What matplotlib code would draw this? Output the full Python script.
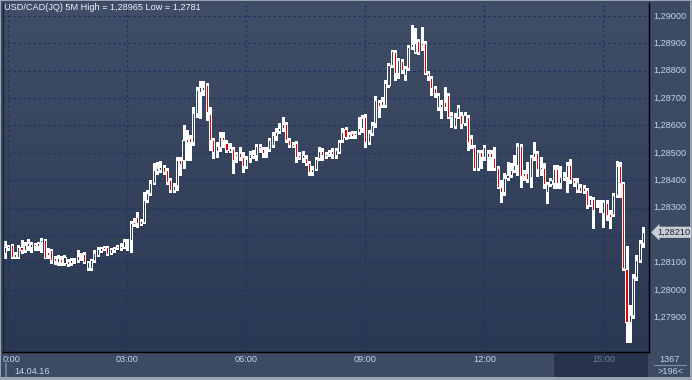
# -*- coding: utf-8 -*-
# usdcad_5m.py
import numpy as np
import matplotlib
matplotlib.use("Agg")
import matplotlib.pyplot as plt
from matplotlib.colors import LinearSegmentedColormap
from matplotlib.patches import Rectangle
from matplotlib.transforms import blended_transform_factory

plt.rcParams['font.family'] = ['Liberation Sans', 'DejaVu Sans']

## 5 minute bars, prices in 1e-5 (points); first bar is 23:55 of 13.04.16
open_pts = [
    128135, 128153, 128164, 128120, 128120, 128156, 128146, 128160, 128156, 128167,
    128160, 128175, 128182, 128127, 128146, 128116, 128102, 128113, 128098, 128105,
    128098, 128105, 128109, 128120, 128131, 128080, 128080, 128109, 128127, 128142,
    128149, 128156, 128135, 128146, 128160, 128153, 128156, 128178, 128182, 128240,
    128266, 128240, 128248, 128328, 128354, 128390, 128434, 128438, 128448,
    128438, 128401, 128365, 128383, 128474, 128474, 128540, 128554, 128540, 128646,
    128722, 128730, 128748, 128642, 128547, 128507, 128521, 128558, 128536, 128507,
    128514, 128489, 128500, 128485, 128452, 128481, 128489, 128492, 128525, 128514,
    128507, 128514, 128529, 128562, 128580, 128591, 128605, 128547, 128525, 128536,
    128485, 128481, 128481, 128463, 128430, 128441, 128481, 128507, 128489, 128496,
    128507, 128492, 128503, 128547, 128587, 128558, 128573, 128565, 128576, 128591,
    128631, 128540, 128573, 128609, 128686, 128675, 128675, 128748, 128821, 128868,
    128792, 128835, 128784, 128810, 128886, 128868, 128908, 128894, 128901, 128792,
    128773, 128737, 128667, 128667, 128686, 128711, 128631, 128598, 128631, 128638,
    128609, 128631, 128554, 128521, 128445, 128503, 128485,
    128485, 128500, 128481, 128445, 128375, 128357, 128408, 128419, 128438, 128456,
    128525, 128416, 128427, 128412, 128485, 128500, 128441, 128445, 128357, 128386,
    128390, 128441, 128390, 128408, 128412, 128456, 128401, 128365, 128375, 128361,
    128365, 128310, 128332, 128313, 128313, 128281, 128317, 128277, 128277, 128346,
    128452, 128390, 128076, 127883, 127908, 128047, 128109, 128171,
]
high_pts = [
    128178, 128164, 128167, 128138, 128164, 128182, 128175, 128186, 128175, 128171,
    128175, 128189, 128186, 128153, 128149, 128124, 128127, 128124, 128127, 128113,
    128116, 128116, 128146, 128135, 128138, 128105, 128113, 128146, 128156, 128156,
    128160, 128160, 128153, 128156, 128164, 128171, 128186, 128186, 128251, 128262,
    128284, 128259, 128357, 128365, 128401, 128463, 128467, 128470, 128456,
    128445, 128408, 128390, 128485, 128485, 128602, 128584, 128565, 128667, 128740,
    128762, 128762, 128755, 128667, 128554, 128540, 128576, 128576, 128547, 128536,
    128521, 128503, 128521, 128503, 128489, 128507, 128511, 128532, 128532, 128521,
    128521, 128554, 128576, 128591, 128609, 128631, 128613, 128554, 128540, 128543,
    128503, 128507, 128492, 128470, 128452, 128485, 128521, 128518, 128503, 128511,
    128518, 128518, 128547, 128591, 128594, 128576, 128580, 128580, 128631, 128638,
    128642, 128584, 128613, 128708, 128693, 128704, 128766, 128828, 128876, 128876,
    128846, 128843, 128817, 128894, 128965, 128956, 128916, 128960, 128908, 128799,
    128781, 128744, 128719, 128693, 128740, 128719, 128649, 128646, 128675, 128649,
    128649, 128638, 128565, 128529, 128511, 128511, 128529,
    128511, 128511, 128521, 128452, 128401, 128427, 128467, 128463, 128492, 128536,
    128532, 128438, 128467, 128492, 128540, 128507, 128485, 128463, 128394, 128408,
    128456, 128456, 128452, 128430, 128467, 128478, 128408, 128408, 128386, 128383,
    128372, 128343, 128339, 128328, 128328, 128328, 128328, 128292, 128354, 128470,
    128467, 128394, 128160, 127945, 128058, 128127, 128182, 128229,
]
low_pts = [
    128116, 128146, 128116, 128116, 128116, 128135, 128138, 128146, 128138, 128146,
    128146, 128138, 128116, 128116, 128098, 128094, 128091, 128091, 128091, 128087,
    128091, 128098, 128102, 128109, 128098, 128073, 128073, 128102, 128124, 128138,
    128146, 128127, 128131, 128138, 128149, 128146, 128153, 128146, 128138, 128233,
    128229, 128237, 128244, 128321, 128346, 128386, 128423, 128430, 128423,
    128386, 128357, 128357, 128365, 128419, 128445, 128474, 128474, 128529, 128631,
    128627, 128711, 128620, 128511, 128481, 128485, 128507, 128521, 128503, 128503,
    128427, 128467, 128474, 128430, 128445, 128467, 128481, 128474, 128503, 128485,
    128485, 128507, 128521, 128547, 128573, 128580, 128540, 128521, 128521, 128467,
    128478, 128467, 128456, 128419, 128419, 128438, 128474, 128474, 128481, 128489,
    128481, 128481, 128500, 128540, 128551, 128554, 128554, 128554, 128569, 128576,
    128521, 128532, 128565, 128594, 128631, 128667, 128667, 128740, 128813, 128766,
    128773, 128792, 128766, 128803, 128879, 128865, 128861, 128876, 128788, 128766,
    128711, 128704, 128657, 128627, 128657, 128627, 128594, 128591, 128627, 128591,
    128602, 128511, 128518, 128438, 128438, 128445, 128474,
    128438, 128438, 128438, 128372, 128321, 128346, 128401, 128412, 128430, 128419,
    128375, 128401, 128394, 128375, 128474, 128416, 128419, 128372, 128317, 128379,
    128372, 128372, 128372, 128401, 128357, 128390, 128379, 128357, 128357, 128354,
    128299, 128306, 128226, 128302, 128284, 128229, 128255, 128226, 128270, 128339,
    128339, 128073, 127810, 127810, 127897, 128036, 128102, 128156,
]
close_pts = [
    128156, 128160, 128120, 128131, 128156, 128146, 128164, 128171, 128167, 128160,
    128171, 128182, 128116, 128138, 128109, 128105, 128116, 128102, 128120, 128094,
    128109, 128109, 128124, 128124, 128102, 128102, 128109, 128135, 128149, 128153,
    128156, 128131, 128149, 128153, 128153, 128160, 128178, 128182, 128244, 128248,
    128244, 128251, 128328, 128354, 128390, 128438, 128445, 128448, 128430,
    128394, 128365, 128379, 128474, 128459, 128547, 128551, 128540, 128646, 128730,
    128740, 128740, 128649, 128547, 128503, 128525, 128558, 128547, 128511, 128518,
    128474, 128496, 128485, 128452, 128478, 128496, 128496, 128525, 128518, 128500,
    128511, 128547, 128565, 128576, 128591, 128605, 128547, 128529, 128532, 128485,
    128492, 128492, 128463, 128430, 128441, 128478, 128507, 128492, 128496, 128503,
    128496, 128511, 128540, 128576, 128558, 128569, 128562, 128573, 128591, 128627,
    128540, 128573, 128602, 128693, 128671, 128689, 128755, 128821, 128872, 128792,
    128839, 128803, 128810, 128886, 128897, 128901, 128868, 128901, 128792, 128781,
    128737, 128719, 128711, 128678, 128667, 128631, 128638, 128631, 128667, 128605,
    128638, 128540, 128529, 128445, 128503, 128485, 128521,
    128500, 128485, 128445, 128375, 128357, 128408, 128419, 128438, 128456, 128525,
    128416, 128427, 128405, 128485, 128500, 128441, 128448, 128386, 128386, 128401,
    128441, 128390, 128412, 128416, 128456, 128401, 128390, 128394, 128361, 128372,
    128310, 128332, 128292, 128317, 128317, 128321, 128273, 128266, 128346, 128452,
    128390, 128080, 127883, 127908, 128043, 128109, 128171, 128210,
]
price_levels = [1.279, 1.280, 1.281, 1.282, 1.283, 1.284, 1.285,
                1.286, 1.287, 1.288, 1.289, 1.290]
hour_ticks = [0, 3, 6, 9, 12, 15]
symbol = "USD/CAD(JQ) 5M"
date_label = "14.04.16"
bars_total = "1367"
bars_shown = ">196<"


def fmt(p, strip=False):
    s = "%.5f" % p
    if strip:
        s = s.rstrip('0')
    return s.replace('.', ',')


def plot_chart(filename):
    o = np.array(open_pts) / 1e5
    h = np.array(high_pts) / 1e5
    l = np.array(low_pts) / 1e5
    c = np.array(close_pts) / 1e5
    x = np.arange(len(c))

    ## colours
    panel = '#3c4a63'
    top_bg, bot_bg = '#404e68', '#2b3853'
    label_col = '#c4d2ea'
    grid_col = '#1b3562'
    red = '#e60000'

    W, H = 692, 380
    fig = plt.figure(figsize=(W / 100, H / 100), dpi=100, facecolor='#9aa3b2')
    def frac(x0, y0, x1, y1):
        return [x0 / W, 1 - y1 / H, (x1 - x0) / W, (y1 - y0) / H]

    ## panels behind the chart
    back = fig.add_axes(frac(1, 1, 690, 377))
    back.set_facecolor(panel)
    back.set_xticks([]); back.set_yticks([])
    for s in back.spines.values():
        s.set_visible(False)

    ax = fig.add_axes(frac(3, 3, 649, 352))
    ax.set_facecolor(bot_bg)
    cmap = LinearSegmentedColormap.from_list('bg', [top_bg, bot_bg])
    ax.imshow(np.linspace(0, 1, 256).reshape(-1, 1), cmap=cmap, aspect='auto',
              extent=[0, 1, 0, 1], transform=ax.transAxes, zorder=0)

    ## grid
    t0 = 1  # bar index of 00:00
    tick_x = [t0 + hh * 12 for hh in hour_ticks]
    for p in price_levels:
        ax.axhline(p, color=grid_col, lw=0.9, ls=(0, (2, 2)), zorder=1)
    for tx in tick_x:
        ax.axvline(tx, color=grid_col, lw=0.9, ls=(0, (2, 2)), zorder=1)

    ## candles
    up = c >= o
    body_lo = np.minimum(o, c)
    body_hi = np.maximum(o, c)
    ax.vlines(x, body_hi, h, color='white', lw=0.75, zorder=2, antialiased=False)
    ax.vlines(x, l, body_lo, color='white', lw=0.75, zorder=2, antialiased=False)
    height = np.maximum(body_hi - body_lo, 0.000015)
    faces = ['none' if u else red for u in up]
    ax.bar(x, height, bottom=body_lo, width=0.62, color=faces,
           edgecolor='white', linewidth=0.72, zorder=3, antialiased=False)

    ax.set_xlim(-0.6, 194.8)
    ax.set_ylim(1.27773, 1.29047)
    ax.set_xticks([]); ax.set_yticks([])
    ax.spines['top'].set_visible(False)
    ax.spines['left'].set_color('#1a2230')
    ax.spines['right'].set_color('black')
    ax.spines['bottom'].set_color('black')
    for side in ['left', 'right', 'bottom']:
        ax.spines[side].set_linewidth(1.0)

    ## price labels on the right (the level under the last price box is hidden)
    ty = blended_transform_factory(ax.transAxes, ax.transData)
    for p in price_levels:
        if abs(p - c[-1]) < 0.0003:
            continue
        ax.text(1 + 4 / 646, p, fmt(p), transform=ty, ha='left', va='center',
                fontsize=6.6, color=label_col, clip_on=False)
    ax.text(1 + 8 / 646, c[-1], fmt(c[-1]), transform=ty, ha='left', va='center',
            fontsize=6.6, color='#1c2233', clip_on=False, zorder=5,
            bbox=dict(boxstyle='larrow,pad=0.12', fc='#c9cdd4', ec='none'))

    ## title
    title = "%s High = %s Low = %s" % (symbol, fmt(h.max()), fmt(l.min(), True))
    ax.text(1 / 646, 1 - 5 / 349, title, transform=ax.transAxes, ha='left',
            va='center', fontsize=6.6, color='#eef2f8')

    ## time axis
    tx_ax = blended_transform_factory(ax.transData, ax.transAxes)
    shade = ax.transAxes.inverted().transform(ax.transData.transform((166, 0)))[0]
    ax.add_patch(Rectangle((shade, -25 / 349), 1 - shade - 1 / 646, 24 / 349,
                           transform=ax.transAxes, fc='#27334b', ec='none',
                           clip_on=False))
    for hh, tx in zip(hour_ticks, tick_x):
        lab = "%d:00" % hh if hh == 0 else "%02d:00" % hh
        col = '#6f7d96' if hh == 15 else label_col
        if hh == 0:
            ax.text(0, -7 / 349, lab, transform=ax.transAxes, ha='left',
                    va='center', fontsize=6.6, color=col, clip_on=False)
        else:
            ax.text(tx, -7 / 349, lab, transform=tx_ax, ha='center',
                    va='center', fontsize=6.6, color=col, clip_on=False)
    ax.add_patch(Rectangle((2 / 646, -25 / 349), 2 / 646, 14 / 349,
                           transform=ax.transAxes, fc='#6d7990', ec='none',
                           clip_on=False))
    ax.text(11 / 646, -19 / 349, date_label, transform=ax.transAxes, ha='left',
            va='center', fontsize=6.6, color=label_col, clip_on=False)

    ## bars counter box
    fig.text(670 / W, 1 - 359 / H, bars_total, ha='center', va='center',
             fontsize=6.6, color=label_col)
    fig.add_artist(plt.Line2D([654 / W, 686 / W], [1 - 365 / H, 1 - 365 / H],
                              color='#8190a8', lw=0.8))
    fig.text(670 / W, 1 - 371 / H, bars_shown, ha='center', va='center',
             fontsize=6.6, color=label_col)

    fig.savefig(filename, dpi=100, facecolor=fig.get_facecolor())
    plt.close(fig)
    return True


if __name__ == "__main__":
    plot_chart("out.png")
